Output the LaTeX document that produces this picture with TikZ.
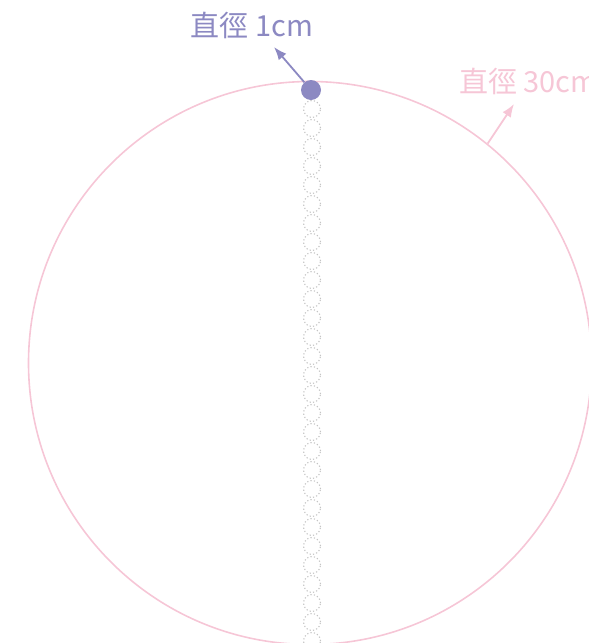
\documentclass[tikz,border=0pt]{standalone}
\usepackage{fontspec}
\newfontfamily\cjk{Noto Sans CJK TC}
\usetikzlibrary{positioning,arrows.meta}
\definecolor{beadpurple}{HTML}{8C89C2}
\definecolor{ringpink}{HTML}{F6C6D6}
\definecolor{chaingray}{HTML}{C4C4C4}
\tikzset{
  label/.style={font=\cjk\fontsize{29}{29}\selectfont, inner sep=0pt},
  link/.style={draw=chaingray, dash pattern=on 1.2pt off 2.2pt, line width=1.1pt, circle, minimum size=17pt, inner sep=0pt},
  pointer/.style={-{Latex[length=13pt,width=10pt]}, line width=1.8pt},
}
\begin{document}
\begin{tikzpicture}[x=1pt, y=-1pt]
\useasboundingbox (0,0) rectangle (589,643);
\node[draw=ringpink, line width=1.6pt, circle, minimum size=563pt, inner sep=0pt] (ring) at (310,363) {};
% chain
\foreach \i in {0,...,28} {
  \node[link] (l\i) at (312,109+19*\i) {};
}
\node[fill=beadpurple, circle, minimum size=20pt, inner sep=0pt] (bead) at (311,90) {};
\node[label, text=beadpurple] (small) at (252,25) {直徑 1cm};
\node[label, text=ringpink, anchor=west] (big) at (459,81) {直徑 30cm};
\coordinate (smalltip) at (274,47);
\coordinate (bigtip) at (514,104);
\draw[pointer, color=beadpurple] (bead) to (smalltip);
\draw[pointer, color=ringpink] (ring.51.5) to (bigtip);
\end{tikzpicture}
\end{document}
